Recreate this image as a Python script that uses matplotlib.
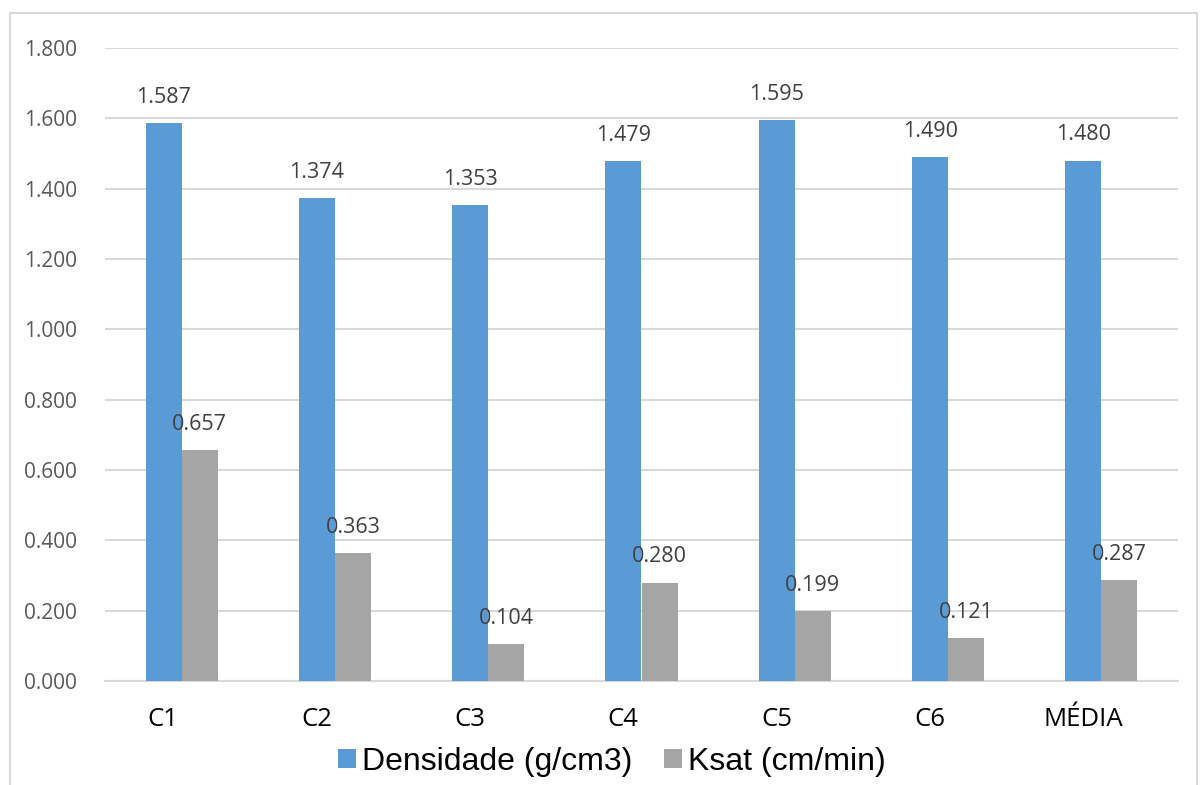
import numpy as np
import matplotlib
matplotlib.use('Agg')
import matplotlib.pyplot as plt
from matplotlib.patches import Rectangle

categorias = ['C1', 'C2', 'C3', 'C4', 'C5', 'C6', 'MÉDIA']
densidade = [1.587, 1.374, 1.353, 1.479, 1.595, 1.490, 1.480]
ksat = [0.657, 0.363, 0.104, 0.280, 0.199, 0.121, 0.287]
y_ticks = [0.0, 0.2, 0.4, 0.6, 0.8, 1.0, 1.2, 1.4, 1.6, 1.8]

azul = '#5B9BD5'
cinza = '#A5A5A5'

fig = plt.figure(figsize=(12, 7.85), dpi=100)
ax = fig.add_axes([105/1200, 1 - 681/785, (1178 - 105)/1200, (681 - 48)/785])

# borda do gráfico
fig.patches.append(Rectangle((10/1200, -0.05), (1197 - 10)/1200, 1.05 - 13/785,
                             transform=fig.transFigure, fill=False,
                             edgecolor='#D9D9D9', lw=1.5))

x = np.arange(len(categorias))
w = 0.235
b1 = ax.bar(x - w/2, densidade, w, color=azul, label='Densidade (g/cm3)', zorder=3)
b2 = ax.bar(x + w/2, ksat, w, color=cinza, label='Ksat (cm/min)', zorder=3)

for bars in (b1, b2):
    for r in bars:
        ax.annotate('{:.3f}'.format(r.get_height()),
                    (r.get_x() + r.get_width()/2, r.get_height()),
                    xytext=(0, 11), textcoords='offset points',
                    ha='center', va='bottom', fontsize=15.5,
                    color='#404040', family='Open Sans')

ax.set_xlim(-0.5, len(categorias) - 0.5)
ax.set_ylim(0, 1.8)
ax.set_yticks(y_ticks)
ax.set_yticklabels(['{:.3f}'.format(v) for v in y_ticks], fontsize=15,
                   color='#595959', family='Open Sans')
ax.set_xticks(x - 0.12)
ax.set_xticklabels(categorias, fontsize=18.5, color='black', family='Open Sans')
ax.tick_params(axis='both', length=0)
ax.tick_params(axis='x', pad=19)
ax.tick_params(axis='y', pad=20)

ax.grid(axis='y', color='#D9D9D9', lw=1.5, zorder=0)
for s in ['top', 'right', 'left']:
    ax.spines[s].set_visible(False)
ax.spines['bottom'].set_color('#D9D9D9')
ax.spines['bottom'].set_linewidth(1.5)

fig.legend(loc='center', bbox_to_anchor=(0.51, 1 - 762/785), ncol=2,
           frameon=False, prop={'family': 'Liberation Sans', 'size': 23},
           handlelength=0.55, handleheight=0.55, handletextpad=0.2,
           columnspacing=1.0)

fig.savefig('out.png', dpi=100)
